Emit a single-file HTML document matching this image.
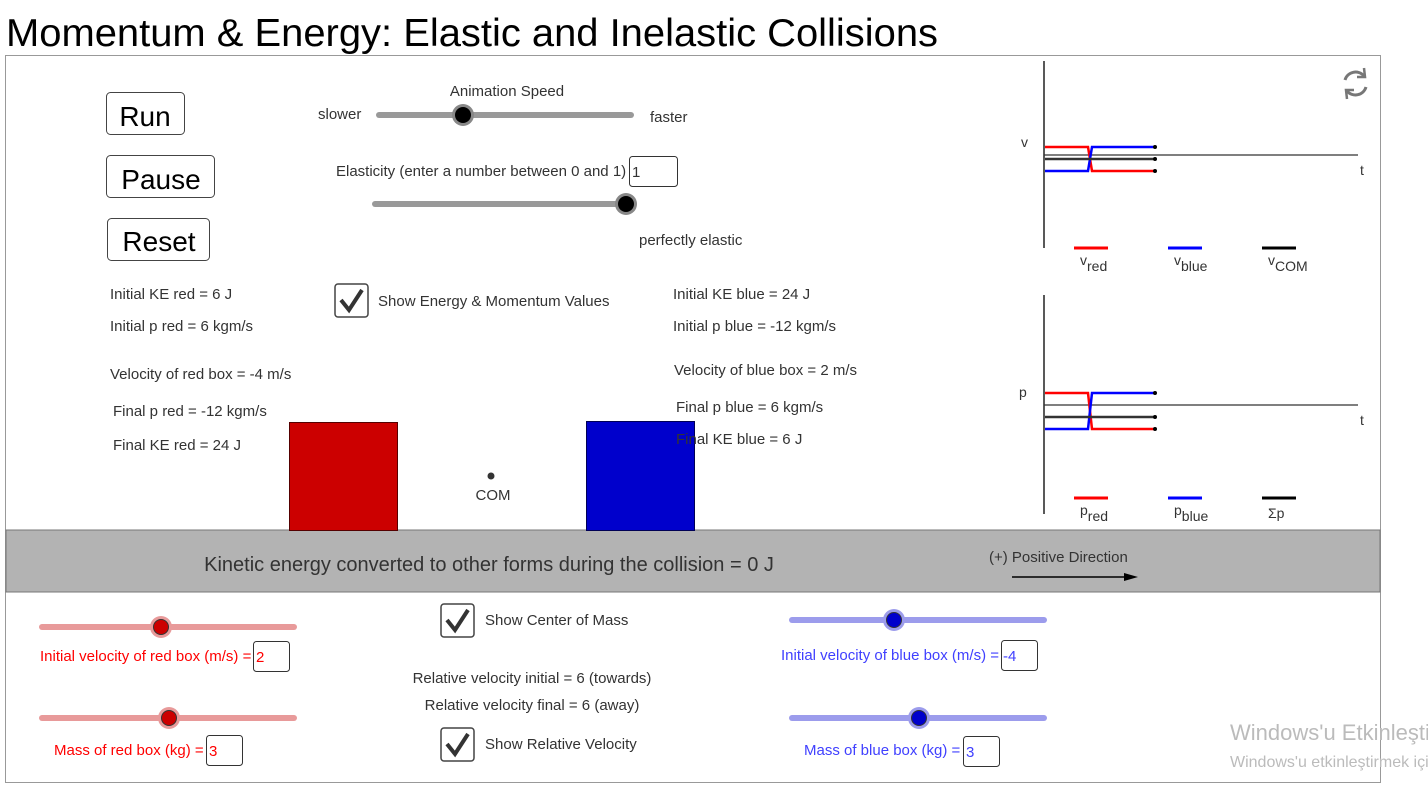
<!DOCTYPE html>
<html><head><meta charset="utf-8">
<style>
html,body{margin:0;padding:0;background:#fff;width:1428px;height:790px;overflow:hidden}
svg{display:block}
text{font-family:"Liberation Sans",Arial,sans-serif;fill:#333}
</style></head><body>
<svg id="s" width="1428" height="790" viewBox="0 0 1428 790" xmlns="http://www.w3.org/2000/svg">
<text x="6" y="46" font-size="39" textLength="932" lengthAdjust="spacingAndGlyphs" style="fill:#000">Momentum &amp; Energy: Elastic and Inelastic Collisions</text>
<rect x="5.5" y="55.5" width="1375" height="727" fill="#fff" stroke="#999"/>
<rect x="6" y="530" width="1374" height="62" fill="#b3b3b3" stroke="#777"/>

<g><rect x="106.5" y="92.5" width="78" height="42" rx="4" fill="#fff" stroke="#444"/><text x="145" y="126" font-size="28" text-anchor="middle" style="fill:#000">Run</text></g>
<g><rect x="106.5" y="155.5" width="108" height="42" rx="4" fill="#fff" stroke="#444"/><text x="161" y="189" font-size="28" text-anchor="middle" style="fill:#000">Pause</text></g>
<g><rect x="107.5" y="218.5" width="102" height="42" rx="4" fill="#fff" stroke="#444"/><text x="159" y="251" font-size="28" text-anchor="middle" style="fill:#000">Reset</text></g>

<text x="507" y="96" font-size="15" text-anchor="middle">Animation Speed</text>
<text x="318" y="119" font-size="15">slower</text>
<text x="650" y="122" font-size="15">faster</text>
<g><line x1="379" y1="115" x2="631" y2="115" stroke="#999" stroke-width="6" stroke-linecap="round"/><circle cx="463" cy="115" r="11" fill="#888"/><circle cx="463" cy="115" r="8" fill="#000"/></g>
<text x="336" y="176" font-size="15">Elasticity (enter a number between 0 and 1)</text>
<g><rect x="629.5" y="156.5" width="48" height="30" rx="3" fill="#fff" stroke="#333"/><text x="632" y="177" font-size="15">1</text></g>
<g><line x1="375" y1="204" x2="626" y2="204" stroke="#999" stroke-width="6" stroke-linecap="round"/><circle cx="626" cy="204" r="11" fill="#888"/><circle cx="626" cy="204" r="8" fill="#000"/></g>
<text x="639" y="245" font-size="15">perfectly elastic</text>

<text x="110" y="299" font-size="15">Initial KE red = 6 J</text>
<text x="110" y="331" font-size="15">Initial p red = 6 kgm/s</text>
<text x="110" y="379" font-size="15">Velocity of red box = -4 m/s</text>
<text x="113" y="416" font-size="15">Final p red = -12 kgm/s</text>
<text x="113" y="450" font-size="15">Final KE red = 24 J</text>

<g><rect x="335" y="284" width="33" height="33" rx="3" fill="#fff" stroke="#444" stroke-width="1.5"/><path d="M341 300 L349 310 L362 290" fill="none" stroke="#333" stroke-width="4"/></g>
<text x="378" y="306" font-size="15">Show Energy &amp; Momentum Values</text>

<text x="673" y="299" font-size="15">Initial KE blue = 24 J</text>
<text x="673" y="331" font-size="15">Initial p blue = -12 kgm/s</text>
<text x="674" y="375" font-size="15">Velocity of blue box = 2 m/s</text>
<text x="676" y="412" font-size="15">Final p blue = 6 kgm/s</text>

<rect x="289.5" y="422.5" width="108" height="108" fill="#cc0000" stroke="#500"/>
<rect x="586.5" y="421.5" width="108" height="109" fill="#0000cc" stroke="#005"/>
<text x="676" y="444" font-size="15">Final KE blue = 6 J</text>
<circle cx="491" cy="476" r="3.5" fill="#333"/>
<text x="493" y="500" font-size="15" text-anchor="middle">COM</text>

<text x="489" y="571" font-size="20" text-anchor="middle">Kinetic energy converted to other forms during the collision = 0 J</text>
<text x="989" y="562" font-size="15">(+) Positive Direction</text>
<g><line x1="1012" y1="577" x2="1128" y2="577" stroke="#000" stroke-width="1.5"/><path d="M1138 577 L1124 573 L1124 581 Z" fill="#000"/></g>

<g fill="none" stroke="#777" stroke-width="3"><path d="M1345 80 A11 11 0 0 1 1364 76"/><path d="M1366 87 A11 11 0 0 1 1347 91"/><path d="M1364 68 L1365 77 L1357 77" stroke-width="2.5"/><path d="M1347 99 L1346 90 L1354 90" stroke-width="2.5"/></g>

<g><line x1="42" y1="627" x2="294" y2="627" stroke="#e89a9a" stroke-width="6" stroke-linecap="round"/><circle cx="161" cy="627" r="11" fill="#e89a9a"/><circle cx="161" cy="627" r="7.5" fill="#cc0000" stroke="#333"/></g>
<text x="40" y="661" font-size="15" style="fill:#f00">Initial velocity of red box (m/s) =</text>
<g><rect x="253.5" y="641.5" width="36" height="30" rx="3" fill="#fff" stroke="#333"/><text x="256" y="662" font-size="15" style="fill:#f00">2</text></g>
<g><line x1="42" y1="718" x2="294" y2="718" stroke="#e89a9a" stroke-width="6" stroke-linecap="round"/><circle cx="169" cy="718" r="11" fill="#e89a9a"/><circle cx="169" cy="718" r="7.5" fill="#cc0000" stroke="#333"/></g>
<text x="54" y="755" font-size="15" style="fill:#f00">Mass of red box (kg) =</text>
<g><rect x="206.5" y="735.5" width="36" height="30" rx="3" fill="#fff" stroke="#333"/><text x="209" y="756" font-size="15" style="fill:#f00">3</text></g>

<g><rect x="441" y="604" width="33" height="33" rx="3" fill="#fff" stroke="#444" stroke-width="1.5"/><path d="M447 620 L455 630 L468 610" fill="none" stroke="#333" stroke-width="4"/></g>
<text x="485" y="625" font-size="15">Show Center of Mass</text>
<text x="532" y="683" font-size="15" text-anchor="middle">Relative velocity initial = 6 (towards)</text>
<text x="532" y="710" font-size="15" text-anchor="middle">Relative velocity final = 6 (away)</text>
<g><rect x="441" y="728" width="33" height="33" rx="3" fill="#fff" stroke="#444" stroke-width="1.5"/><path d="M447 744 L455 754 L468 734" fill="none" stroke="#333" stroke-width="4"/></g>
<text x="485" y="749" font-size="15">Show Relative Velocity</text>

<g><line x1="792" y1="620" x2="1044" y2="620" stroke="#9c9cec" stroke-width="6" stroke-linecap="round"/><circle cx="894" cy="620" r="11" fill="#9c9cec"/><circle cx="894" cy="620" r="7.5" fill="#0000cc" stroke="#333"/></g>
<text x="781" y="660" font-size="15" style="fill:#4040ff">Initial velocity of blue box (m/s) =</text>
<g><rect x="1001.5" y="640.5" width="36" height="30" rx="3" fill="#fff" stroke="#333"/><text x="1003" y="661" font-size="15" style="fill:#4040ff">-4</text></g>
<g><line x1="792" y1="718" x2="1044" y2="718" stroke="#9c9cec" stroke-width="6" stroke-linecap="round"/><circle cx="919" cy="718" r="11" fill="#9c9cec"/><circle cx="919" cy="718" r="7.5" fill="#0000cc" stroke="#333"/></g>
<text x="804" y="755" font-size="15" style="fill:#4040ff">Mass of blue box (kg) =</text>
<g><rect x="963.5" y="736.5" width="36" height="30" rx="3" fill="#fff" stroke="#333"/><text x="966" y="757" font-size="15" style="fill:#4040ff">3</text></g>

<text x="1230" y="740" font-size="22" style="fill:#bbb">Windows'u Etkinleştir</text>
<text x="1230" y="767" font-size="16" style="fill:#bbb">Windows'u etkinleştirmek için</text>

<g id="graphs"></g>
</svg>
<script>
// time samples (arbitrary units) and series values
const times = [0, 4.3, 4.7, 11];
const vRed = [2, 2, -4, -4];
const vBlue = [-4, -4, 2, 2];
const vCom = [-1, -1, -1, -1];
const pRed = [6, 6, -12, -12];
const pBlue = [-12, -12, 6, 6];
const pSum = [-6, -6, -6, -6];
const legendV = ["red", "blue", "COM"];
const legendP = ["red", "blue", ""];

const NS = "http://www.w3.org/2000/svg";
const G = document.getElementById('graphs');
function mk(tag, attrs, parent) {
  const e = document.createElementNS(NS, tag);
  for (const k in attrs) e.setAttribute(k, attrs[k]);
  (parent || G).appendChild(e);
  return e;
}
const xScale = t => 1045 + t * 10;

function panel(cfg) {
  const yS = v => cfg.zeroY - v * cfg.unit;
  const g = mk('g', {});
  
  
  const ax = mk('line', {x1: 1044, y1: cfg.top, x2: 1044, y2: cfg.bottom, stroke: '#222', 'stroke-width': 1.5}, g);
  
  
  const tx = mk('line', {x1: 1044, y1: cfg.zeroY, x2: 1358, y2: cfg.zeroY, stroke: '#333', 'stroke-width': 1.2}, g);
  
  
  const yl = mk('text', {x: cfg.ylx, y: cfg.zeroY - 8, 'font-size': 14}, g);
  yl.textContent = cfg.ylabel;
  
  
  const tl = mk('text', {x: 1360, y: cfg.zeroY + 20, 'font-size': 14}, g);
  tl.textContent = 't';
  
  
  cfg.series.forEach(s => {
    const pts = times.map((t, i) => xScale(t) + ',' + yS(s.vals[i])).join(' ');
    const pl = mk('polyline', {points: pts, fill: 'none', stroke: s.color, 'stroke-width': 2.5}, g);
    
    
    const last = times.length - 1;
    const d = mk('circle', {cx: xScale(times[last]), cy: yS(s.vals[last]), r: 2, fill: '#000'}, g);
    
    
  });
  const lx = [1074, 1168, 1262];
  const cols = ['#f00', '#00f', '#000'];
  for (let i = 0; i < 3; i++) {
    const ln = mk('line', {x1: lx[i], y1: cfg.legY, x2: lx[i] + 34, y2: cfg.legY, stroke: cols[i], 'stroke-width': 3}, g);
    
    
    const t = mk('text', {x: lx[i] + 6, y: cfg.legY + 20, 'font-size': 14}, g);
    
    
    if (cfg.subs[i]) {
      const a = mk('tspan', {dy: -3}, t); a.textContent = cfg.ylabel;
      const b = mk('tspan', {dy: 6}, t); b.textContent = cfg.subs[i];
    } else {
      t.textContent = 'Σp';
    }
  }
}
panel({name: 'velocity-graph', top: 61, bottom: 248, zeroY: 155, unit: 4, ylabel: 'v', ylx: 1021, legY: 248, subs: legendV,
  series: [{name: 'v-red-line', vals: vRed, color: '#f00'}, {name: 'v-blue-line', vals: vBlue, color: '#00f'}, {name: 'v-com-line', vals: vCom, color: '#333'}]});
panel({name: 'momentum-graph', top: 295, bottom: 514, zeroY: 405, unit: 2, ylabel: 'p', ylx: 1019, legY: 498, subs: legendP,
  series: [{name: 'p-red-line', vals: pRed, color: '#f00'}, {name: 'p-blue-line', vals: pBlue, color: '#00f'}, {name: 'p-sum-line', vals: pSum, color: '#333'}]});
</script>
</body></html>
